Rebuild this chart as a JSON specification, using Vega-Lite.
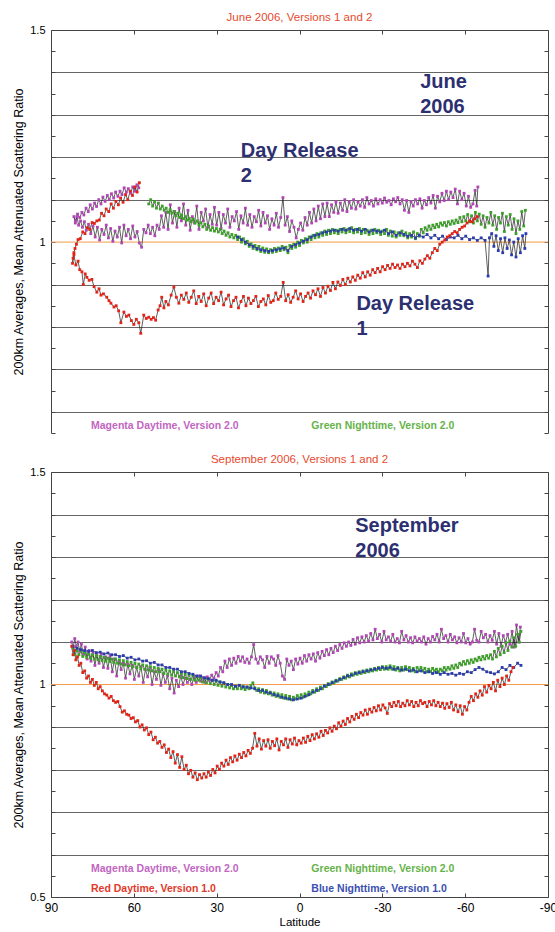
{
"$schema":"https://vega.github.io/schema/vega-lite/v6.json",
"background":"white",
"padding":{"left":12,"top":11,"right":0,"bottom":0},
"spacing":15,
"config":{"font":"Liberation Sans","view":{"stroke":null},
"axis":{"labelFont":"Liberation Sans","titleFont":"Liberation Sans","titleFontWeight":"normal","labelColor":"#000","titleColor":"#000","domainColor":"#444","tickColor":"#444","grid":false,"tickSize":-4,"labelFlush":false,"labelOverlap":false},
"title":{"font":"Liberation Sans","fontSize":11.5,"fontWeight":"normal","color":"#e64a2e","offset":1,"frame":"group","baseline":"alphabetic"}},
"datasets":{
"jun":[
{"s":"M","x":58.2,"y":1.128},{"s":"M","x":58.9,"y":1.135},{"s":"M","x":59.7,"y":1.12},{"s":"M","x":60.4,"y":1.13},{"s":"M","x":61.2,"y":1.115},{"s":"M","x":62.0,"y":1.126},{"s":"M","x":62.7,"y":1.118},{"s":"M","x":63.5,"y":1.128},{"s":"M","x":64.3,"y":1.112},{"s":"M","x":65.0,"y":1.12},{"s":"M","x":65.8,"y":1.108},{"s":"M","x":66.6,"y":1.118},{"s":"M","x":67.3,"y":1.104},{"s":"M","x":68.1,"y":1.114},{"s":"M","x":68.9,"y":1.1},{"s":"M","x":69.6,"y":1.11},{"s":"M","x":70.4,"y":1.096},{"s":"M","x":71.2,"y":1.106},{"s":"M","x":71.9,"y":1.09},{"s":"M","x":72.7,"y":1.1},{"s":"M","x":73.5,"y":1.084},{"s":"M","x":74.2,"y":1.092},{"s":"M","x":75.0,"y":1.078},{"s":"M","x":75.8,"y":1.088},{"s":"M","x":76.5,"y":1.072},{"s":"M","x":77.3,"y":1.08},{"s":"M","x":78.1,"y":1.064},{"s":"M","x":78.8,"y":1.07},{"s":"M","x":79.6,"y":1.058},{"s":"M","x":80.4,"y":1.066},{"s":"M","x":81.1,"y":1.05},{"s":"M","x":81.7,"y":1.06},
{"s":"M","x":81.2,"y":1.045},{"s":"M","x":80.6,"y":1.06},{"s":"M","x":80.0,"y":1.04},{"s":"M","x":79.3,"y":1.05},{"s":"M","x":78.6,"y":1.035},{"s":"M","x":77.9,"y":1.048},{"s":"M","x":77.2,"y":1.028},{"s":"M","x":76.4,"y":1.042},{"s":"M","x":75.6,"y":1.02},{"s":"M","x":74.8,"y":1.038},{"s":"M","x":74.0,"y":1.012},{"s":"M","x":73.2,"y":1.035},{"s":"M","x":72.4,"y":1.005},{"s":"M","x":71.6,"y":1.03},{"s":"M","x":70.8,"y":1.018},{"s":"M","x":70.0,"y":1.04},{"s":"M","x":69.2,"y":1.01},{"s":"M","x":68.4,"y":1.032},{"s":"M","x":67.6,"y":1.002},{"s":"M","x":66.8,"y":1.026},{"s":"M","x":66.0,"y":1.012},{"s":"M","x":65.2,"y":1.035},{"s":"M","x":64.4,"y":0.998},{"s":"M","x":63.6,"y":1.04},{"s":"M","x":62.8,"y":1.015},{"s":"M","x":62.0,"y":1.03},{"s":"M","x":61.2,"y":1.008},{"s":"M","x":60.4,"y":1.038},{"s":"M","x":59.6,"y":1.012},{"s":"M","x":58.8,"y":1.025},{"s":"M","x":58.0,"y":0.998},{"s":"M","x":57.2,"y":0.988},{"s":"M","x":56.4,"y":1.03},{"s":"M","x":55.6,"y":1.022},{"s":"M","x":54.8,"y":1.04},{"s":"M","x":54.0,"y":1.02},{"s":"M","x":53.2,"y":1.035},{"s":"M","x":52.4,"y":1.015},{"s":"M","x":51.6,"y":1.04},{"s":"M","x":50.8,"y":1.03},{"s":"M","x":50.0,"y":1.062},{"s":"M","x":49.2,"y":1.035},{"s":"M","x":48.4,"y":1.07},{"s":"M","x":47.6,"y":1.03},{"s":"M","x":46.8,"y":1.088},{"s":"M","x":46.0,"y":1.045},{"s":"M","x":45.2,"y":1.072},{"s":"M","x":44.4,"y":1.035},{"s":"M","x":43.6,"y":1.08},{"s":"M","x":42.8,"y":1.05},{"s":"M","x":42.0,"y":1.09},{"s":"M","x":41.2,"y":1.04},{"s":"M","x":40.4,"y":1.075},{"s":"M","x":39.6,"y":1.028},{"s":"M","x":38.8,"y":1.06},{"s":"M","x":38.0,"y":1.045},{"s":"M","x":37.2,"y":1.085},{"s":"M","x":36.4,"y":1.03},{"s":"M","x":35.6,"y":1.07},{"s":"M","x":34.8,"y":1.05},{"s":"M","x":34.0,"y":1.078},{"s":"M","x":33.2,"y":1.035},{"s":"M","x":32.4,"y":1.065},{"s":"M","x":31.6,"y":1.042},{"s":"M","x":30.8,"y":1.082},{"s":"M","x":30.0,"y":1.04},
{"s":"M","x":29.2,"y":1.07},{"s":"M","x":28.4,"y":1.032},{"s":"M","x":27.6,"y":1.065},{"s":"M","x":26.8,"y":1.045},{"s":"M","x":26.0,"y":1.078},{"s":"M","x":25.2,"y":1.035},{"s":"M","x":24.4,"y":1.06},{"s":"M","x":23.6,"y":1.05},{"s":"M","x":22.8,"y":1.072},{"s":"M","x":22.0,"y":1.03},{"s":"M","x":21.2,"y":1.062},{"s":"M","x":20.4,"y":1.045},{"s":"M","x":19.6,"y":1.08},{"s":"M","x":18.8,"y":1.04},{"s":"M","x":18.0,"y":1.065},{"s":"M","x":17.2,"y":1.035},{"s":"M","x":16.4,"y":1.06},{"s":"M","x":15.6,"y":1.048},{"s":"M","x":14.8,"y":1.075},{"s":"M","x":14.0,"y":1.038},{"s":"M","x":13.2,"y":1.07},{"s":"M","x":12.4,"y":1.045},{"s":"M","x":11.6,"y":1.062},{"s":"M","x":10.8,"y":1.03},{"s":"M","x":10.0,"y":1.055},{"s":"M","x":9.2,"y":1.04},{"s":"M","x":8.4,"y":1.068},{"s":"M","x":7.6,"y":1.035},{"s":"M","x":6.8,"y":1.058},{"s":"M","x":6.0,"y":1.105},{"s":"M","x":5.2,"y":1.04},{"s":"M","x":4.4,"y":1.06},{"s":"M","x":3.6,"y":1.025},{"s":"M","x":2.8,"y":1.05},{"s":"M","x":2.0,"y":1.035},{"s":"M","x":1.2,"y":1.01},{"s":"M","x":0.4,"y":1.03},{"s":"M","x":-0.4,"y":1.045},{"s":"M","x":-1.2,"y":1.028},{"s":"M","x":-2.0,"y":1.058},{"s":"M","x":-2.8,"y":1.04},{"s":"M","x":-3.6,"y":1.07},{"s":"M","x":-4.4,"y":1.045},{"s":"M","x":-5.2,"y":1.078},{"s":"M","x":-6.0,"y":1.05},{"s":"M","x":-6.8,"y":1.085},{"s":"M","x":-7.6,"y":1.055},{"s":"M","x":-8.4,"y":1.09},{"s":"M","x":-9.2,"y":1.06},{"s":"M","x":-10.0,"y":1.092},{"s":"M","x":-10.8,"y":1.06},{"s":"M","x":-11.6,"y":1.088},{"s":"M","x":-12.4,"y":1.07},{"s":"M","x":-13.2,"y":1.095},{"s":"M","x":-14.0,"y":1.068},{"s":"M","x":-14.8,"y":1.092},{"s":"M","x":-15.6,"y":1.075},{"s":"M","x":-16.4,"y":1.1},{"s":"M","x":-17.2,"y":1.072},{"s":"M","x":-18.0,"y":1.095},{"s":"M","x":-18.8,"y":1.08},{"s":"M","x":-19.6,"y":1.1},{"s":"M","x":-20.4,"y":1.078},{"s":"M","x":-21.2,"y":1.095},{"s":"M","x":-22.0,"y":1.085},{"s":"M","x":-22.8,"y":1.1},{"s":"M","x":-23.6,"y":1.082},{"s":"M","x":-24.4,"y":1.105},{"s":"M","x":-25.2,"y":1.09},{"s":"M","x":-26.0,"y":1.098},{"s":"M","x":-26.8,"y":1.085},{"s":"M","x":-27.6,"y":1.102},{"s":"M","x":-28.4,"y":1.09},{"s":"M","x":-29.2,"y":1.1},{"s":"M","x":-30.0,"y":1.092},{"s":"M","x":-30.8,"y":1.104},{"s":"M","x":-31.6,"y":1.094},{"s":"M","x":-32.4,"y":1.098},{"s":"M","x":-33.2,"y":1.088},{"s":"M","x":-34.0,"y":1.102},{"s":"M","x":-34.8,"y":1.095},{"s":"M","x":-35.6,"y":1.105},{"s":"M","x":-36.4,"y":1.09},{"s":"M","x":-37.2,"y":1.1},{"s":"M","x":-38.0,"y":1.075},{"s":"M","x":-38.8,"y":1.098},{"s":"M","x":-39.6,"y":1.07},{"s":"M","x":-40.4,"y":1.095},{"s":"M","x":-41.2,"y":1.085},{"s":"M","x":-42.0,"y":1.1},{"s":"M","x":-42.8,"y":1.09},{"s":"M","x":-43.6,"y":1.102},{"s":"M","x":-44.4,"y":1.08},{"s":"M","x":-45.2,"y":1.098},{"s":"M","x":-46.0,"y":1.088},{"s":"M","x":-46.8,"y":1.105},{"s":"M","x":-47.6,"y":1.092},{"s":"M","x":-48.4,"y":1.11},{"s":"M","x":-49.2,"y":1.08},{"s":"M","x":-50.0,"y":1.108},{"s":"M","x":-50.8,"y":1.095},{"s":"M","x":-51.6,"y":1.115},{"s":"M","x":-52.4,"y":1.098},{"s":"M","x":-53.2,"y":1.12},{"s":"M","x":-54.0,"y":1.1},{"s":"M","x":-54.8,"y":1.118},{"s":"M","x":-55.6,"y":1.105},{"s":"M","x":-56.4,"y":1.125},{"s":"M","x":-57.2,"y":1.09},{"s":"M","x":-58.0,"y":1.12},{"s":"M","x":-58.8,"y":1.1},{"s":"M","x":-59.6,"y":1.115},{"s":"M","x":-60.4,"y":1.085},{"s":"M","x":-61.2,"y":1.108},{"s":"M","x":-62.0,"y":1.082},{"s":"M","x":-62.8,"y":1.09},{"s":"M","x":-63.6,"y":1.122},{"s":"M","x":-64.2,"y":1.085},{"s":"M","x":-64.6,"y":1.13},
{"s":"G","x":54.6,"y":1.09},{"s":"G","x":53.9,"y":1.1},{"s":"G","x":53.2,"y":1.085},{"s":"G","x":52.5,"y":1.095},{"s":"G","x":51.8,"y":1.08},{"s":"G","x":51.1,"y":1.092},{"s":"G","x":50.4,"y":1.078},{"s":"G","x":49.7,"y":1.085},{"s":"G","x":49.0,"y":1.075},{"s":"G","x":48.3,"y":1.08},{"s":"G","x":47.6,"y":1.07},{"s":"G","x":46.9,"y":1.076},{"s":"G","x":46.2,"y":1.068},{"s":"G","x":45.5,"y":1.072},{"s":"G","x":44.8,"y":1.062},{"s":"G","x":44.1,"y":1.068},{"s":"G","x":43.4,"y":1.058},{"s":"G","x":42.7,"y":1.064},{"s":"G","x":42.0,"y":1.055},{"s":"G","x":41.3,"y":1.06},{"s":"G","x":40.6,"y":1.052},{"s":"G","x":39.9,"y":1.056},{"s":"G","x":39.2,"y":1.048},{"s":"G","x":38.5,"y":1.054},{"s":"G","x":37.8,"y":1.045},{"s":"G","x":37.1,"y":1.05},{"s":"G","x":36.4,"y":1.04},{"s":"G","x":35.7,"y":1.046},{"s":"G","x":35.0,"y":1.036},{"s":"G","x":34.3,"y":1.042},{"s":"G","x":33.6,"y":1.03},{"s":"G","x":32.9,"y":1.038},{"s":"G","x":32.2,"y":1.028},{"s":"G","x":31.5,"y":1.034},{"s":"G","x":30.8,"y":1.026},{"s":"G","x":30.1,"y":1.032},{"s":"G","x":29.4,"y":1.024},{"s":"G","x":28.7,"y":1.03},{"s":"G","x":28.0,"y":1.02},{"s":"G","x":27.3,"y":1.026},{"s":"G","x":26.6,"y":1.016},{"s":"G","x":25.9,"y":1.022},{"s":"G","x":25.2,"y":1.012},{"s":"G","x":24.5,"y":1.018},{"s":"G","x":23.8,"y":1.01},{"s":"G","x":23.1,"y":1.016},{"s":"G","x":22.4,"y":1.006},{"s":"G","x":21.7,"y":1.012},{"s":"G","x":21.0,"y":1.0},{"s":"G","x":20.3,"y":1.008},{"s":"G","x":19.6,"y":0.996},{"s":"G","x":18.9,"y":1.002},{"s":"G","x":18.2,"y":0.99},{"s":"G","x":17.5,"y":0.996},{"s":"G","x":16.8,"y":0.985},{"s":"G","x":16.1,"y":0.992},{"s":"G","x":15.4,"y":0.982},{"s":"G","x":14.7,"y":0.99},{"s":"G","x":14.0,"y":0.978},{"s":"G","x":13.3,"y":0.986},{"s":"G","x":12.6,"y":0.976},{"s":"G","x":11.9,"y":0.984},{"s":"G","x":11.2,"y":0.975},{"s":"G","x":10.5,"y":0.982},{"s":"G","x":9.8,"y":0.976},{"s":"G","x":9.1,"y":0.985},{"s":"G","x":8.4,"y":0.978},{"s":"G","x":7.7,"y":0.986},{"s":"G","x":7.0,"y":0.98},{"s":"G","x":6.3,"y":0.99},{"s":"G","x":5.6,"y":0.982},{"s":"G","x":4.9,"y":0.988},{"s":"G","x":4.2,"y":0.975},{"s":"G","x":3.5,"y":0.992},{"s":"G","x":2.8,"y":0.985},{"s":"G","x":2.1,"y":0.995},{"s":"G","x":1.4,"y":0.988},{"s":"G","x":0.7,"y":1.0},{"s":"G","x":0.0,"y":0.992},{"s":"G","x":-0.7,"y":1.004},{"s":"G","x":-1.4,"y":0.998},{"s":"G","x":-2.1,"y":1.008},{"s":"G","x":-2.8,"y":1.0},{"s":"G","x":-3.5,"y":1.012},{"s":"G","x":-4.2,"y":1.006},{"s":"G","x":-4.9,"y":1.016},{"s":"G","x":-5.6,"y":1.01},{"s":"G","x":-6.3,"y":1.02},{"s":"G","x":-7.0,"y":1.012},{"s":"G","x":-7.7,"y":1.022},{"s":"G","x":-8.4,"y":1.016},{"s":"G","x":-9.1,"y":1.026},{"s":"G","x":-9.8,"y":1.018},{"s":"G","x":-10.5,"y":1.028},{"s":"G","x":-11.2,"y":1.02},{"s":"G","x":-11.9,"y":1.03},{"s":"G","x":-12.6,"y":1.022},{"s":"G","x":-13.3,"y":1.028},{"s":"G","x":-14.0,"y":1.02},{"s":"G","x":-14.7,"y":1.03},{"s":"G","x":-15.4,"y":1.024},{"s":"G","x":-16.1,"y":1.032},{"s":"G","x":-16.8,"y":1.022},{"s":"G","x":-17.5,"y":1.03},{"s":"G","x":-18.2,"y":1.025},{"s":"G","x":-18.9,"y":1.034},{"s":"G","x":-19.6,"y":1.022},{"s":"G","x":-20.3,"y":1.03},{"s":"G","x":-21.0,"y":1.024},{"s":"G","x":-21.7,"y":1.032},{"s":"G","x":-22.4,"y":1.02},{"s":"G","x":-23.1,"y":1.03},{"s":"G","x":-23.8,"y":1.022},{"s":"G","x":-24.5,"y":1.028},{"s":"G","x":-25.2,"y":1.018},{"s":"G","x":-25.9,"y":1.028},{"s":"G","x":-26.6,"y":1.02},{"s":"G","x":-27.3,"y":1.03},{"s":"G","x":-28.0,"y":1.022},{"s":"G","x":-28.7,"y":1.028},{"s":"G","x":-29.4,"y":1.018},{"s":"G","x":-30.1,"y":1.026},{"s":"G","x":-30.8,"y":1.02},{"s":"G","x":-31.5,"y":1.03},{"s":"G","x":-32.2,"y":1.016},{"s":"G","x":-32.9,"y":1.026},{"s":"G","x":-33.6,"y":1.014},{"s":"G","x":-34.3,"y":1.024},{"s":"G","x":-35.0,"y":1.012},{"s":"G","x":-35.7,"y":1.022},{"s":"G","x":-36.4,"y":1.016},{"s":"G","x":-37.1,"y":1.026},{"s":"G","x":-37.8,"y":1.015},{"s":"G","x":-38.5,"y":1.022},{"s":"G","x":-39.2,"y":1.01},{"s":"G","x":-39.9,"y":1.02},{"s":"G","x":-40.6,"y":1.012},{"s":"G","x":-41.3,"y":1.024},{"s":"G","x":-42.0,"y":1.008},{"s":"G","x":-42.7,"y":1.02},{"s":"G","x":-43.4,"y":1.014},{"s":"G","x":-44.1,"y":1.03},{"s":"G","x":-44.8,"y":1.022},{"s":"G","x":-45.5,"y":1.034},{"s":"G","x":-46.2,"y":1.028},{"s":"G","x":-46.9,"y":1.038},{"s":"G","x":-47.6,"y":1.03},{"s":"G","x":-48.3,"y":1.04},{"s":"G","x":-49.0,"y":1.034},{"s":"G","x":-49.7,"y":1.042},{"s":"G","x":-50.4,"y":1.036},{"s":"G","x":-51.1,"y":1.045},{"s":"G","x":-51.8,"y":1.04},{"s":"G","x":-52.5,"y":1.046},{"s":"G","x":-53.2,"y":1.038},{"s":"G","x":-53.9,"y":1.048},{"s":"G","x":-54.6,"y":1.042},{"s":"G","x":-55.3,"y":1.05},{"s":"G","x":-56.0,"y":1.044},{"s":"G","x":-56.7,"y":1.052},{"s":"G","x":-57.4,"y":1.046},{"s":"G","x":-58.1,"y":1.058},{"s":"G","x":-58.8,"y":1.048},{"s":"G","x":-59.5,"y":1.06},{"s":"G","x":-60.2,"y":1.05},{"s":"G","x":-60.9,"y":1.065},{"s":"G","x":-61.6,"y":1.048},{"s":"G","x":-62.3,"y":1.062},{"s":"G","x":-63.0,"y":1.045},{"s":"G","x":-63.7,"y":1.07},{"s":"G","x":-64.4,"y":1.05},{"s":"G","x":-65.1,"y":1.066},{"s":"G","x":-65.8,"y":1.042},{"s":"G","x":-66.5,"y":1.062},{"s":"G","x":-67.2,"y":1.035},{"s":"G","x":-67.9,"y":1.058},{"s":"G","x":-68.6,"y":1.045},{"s":"G","x":-69.3,"y":1.07},{"s":"G","x":-70.0,"y":1.04},{"s":"G","x":-70.7,"y":1.062},{"s":"G","x":-71.4,"y":1.03},{"s":"G","x":-72.1,"y":1.058},{"s":"G","x":-72.8,"y":1.045},{"s":"G","x":-73.5,"y":1.068},{"s":"G","x":-74.2,"y":1.025},{"s":"G","x":-74.9,"y":1.06},{"s":"G","x":-75.6,"y":1.04},{"s":"G","x":-76.3,"y":1.065},{"s":"G","x":-77.0,"y":1.03},{"s":"G","x":-77.7,"y":1.055},{"s":"G","x":-78.4,"y":1.02},{"s":"G","x":-79.1,"y":1.05},{"s":"G","x":-79.8,"y":1.03},{"s":"G","x":-80.5,"y":1.072},{"s":"G","x":-81.2,"y":1.038},{"s":"G","x":-81.8,"y":1.075},
{"s":"B","x":22.4,"y":1.012},{"s":"B","x":21.0,"y":1.006},{"s":"B","x":19.6,"y":1.0},{"s":"B","x":18.2,"y":0.994},{"s":"B","x":16.8,"y":0.99},{"s":"B","x":15.4,"y":0.985},{"s":"B","x":14.0,"y":0.982},{"s":"B","x":12.6,"y":0.98},{"s":"B","x":11.2,"y":0.978},{"s":"B","x":9.8,"y":0.98},{"s":"B","x":8.4,"y":0.982},{"s":"B","x":7.0,"y":0.984},{"s":"B","x":5.6,"y":0.986},{"s":"B","x":4.2,"y":0.98},{"s":"B","x":2.8,"y":0.99},{"s":"B","x":1.4,"y":0.994},{"s":"B","x":0.0,"y":0.998},{"s":"B","x":-1.4,"y":1.002},{"s":"B","x":-2.8,"y":1.006},{"s":"B","x":-4.2,"y":1.012},{"s":"B","x":-5.6,"y":1.016},{"s":"B","x":-7.0,"y":1.018},{"s":"B","x":-8.4,"y":1.022},{"s":"B","x":-9.8,"y":1.024},{"s":"B","x":-11.2,"y":1.026},{"s":"B","x":-12.6,"y":1.028},{"s":"B","x":-14.0,"y":1.026},{"s":"B","x":-15.4,"y":1.03},{"s":"B","x":-16.8,"y":1.028},{"s":"B","x":-18.2,"y":1.032},{"s":"B","x":-19.6,"y":1.028},{"s":"B","x":-21.0,"y":1.03},{"s":"B","x":-22.4,"y":1.026},{"s":"B","x":-23.8,"y":1.03},{"s":"B","x":-25.2,"y":1.024},{"s":"B","x":-26.6,"y":1.028},{"s":"B","x":-28.0,"y":1.026},{"s":"B","x":-29.4,"y":1.024},{"s":"B","x":-30.8,"y":1.028},{"s":"B","x":-32.2,"y":1.02},{"s":"B","x":-33.6,"y":1.024},{"s":"B","x":-35.0,"y":1.016},{"s":"B","x":-36.4,"y":1.022},{"s":"B","x":-37.8,"y":1.018},{"s":"B","x":-39.2,"y":1.014},{"s":"B","x":-40.6,"y":1.016},{"s":"B","x":-42.0,"y":1.01},{"s":"B","x":-43.4,"y":1.016},{"s":"B","x":-44.8,"y":1.012},{"s":"B","x":-46.2,"y":1.018},{"s":"B","x":-47.6,"y":1.01},{"s":"B","x":-49.0,"y":1.016},{"s":"B","x":-50.4,"y":1.008},{"s":"B","x":-51.8,"y":1.014},{"s":"B","x":-53.2,"y":1.006},{"s":"B","x":-54.6,"y":1.012},{"s":"B","x":-56.0,"y":1.01},{"s":"B","x":-57.4,"y":1.016},{"s":"B","x":-58.8,"y":1.008},{"s":"B","x":-60.2,"y":1.014},{"s":"B","x":-61.6,"y":1.006},{"s":"B","x":-63.0,"y":1.01},{"s":"B","x":-64.4,"y":1.004},{"s":"B","x":-65.8,"y":1.01},{"s":"B","x":-67.2,"y":1.004},{"s":"B","x":-68.3,"y":0.92},{"s":"B","x":-68.8,"y":1.01},{"s":"B","x":-69.6,"y":1.02},{"s":"B","x":-70.4,"y":0.99},{"s":"B","x":-71.2,"y":1.015},{"s":"B","x":-72.0,"y":0.98},{"s":"B","x":-72.8,"y":1.008},{"s":"B","x":-73.6,"y":0.975},{"s":"B","x":-74.4,"y":1.01},{"s":"B","x":-75.2,"y":0.985},{"s":"B","x":-76.0,"y":1.005},{"s":"B","x":-76.8,"y":0.97},{"s":"B","x":-77.6,"y":1.0},{"s":"B","x":-78.4,"y":0.965},{"s":"B","x":-79.2,"y":1.008},{"s":"B","x":-80.0,"y":0.975},{"s":"B","x":-80.8,"y":1.015},{"s":"B","x":-81.6,"y":0.985},{"s":"B","x":-82.0,"y":1.02},
{"s":"R","x":58.0,"y":1.14},{"s":"R","x":58.8,"y":1.118},{"s":"R","x":59.6,"y":1.13},{"s":"R","x":60.5,"y":1.11},{"s":"R","x":61.3,"y":1.12},{"s":"R","x":62.2,"y":1.1},{"s":"R","x":63.0,"y":1.112},{"s":"R","x":63.9,"y":1.094},{"s":"R","x":64.8,"y":1.104},{"s":"R","x":65.6,"y":1.088},{"s":"R","x":66.5,"y":1.096},{"s":"R","x":67.4,"y":1.08},{"s":"R","x":68.2,"y":1.09},{"s":"R","x":69.1,"y":1.072},{"s":"R","x":70.0,"y":1.078},{"s":"R","x":70.8,"y":1.062},{"s":"R","x":71.7,"y":1.068},{"s":"R","x":72.5,"y":1.052},{"s":"R","x":73.4,"y":1.05},{"s":"R","x":74.3,"y":1.044},{"s":"R","x":75.1,"y":1.046},{"s":"R","x":76.0,"y":1.03},{"s":"R","x":76.8,"y":1.034},{"s":"R","x":77.7,"y":1.02},{"s":"R","x":78.5,"y":1.024},{"s":"R","x":79.4,"y":1.008},{"s":"R","x":80.2,"y":1.006},{"s":"R","x":80.8,"y":0.995},{"s":"R","x":81.3,"y":0.985},{"s":"R","x":81.7,"y":0.975},{"s":"R","x":82.0,"y":0.962},{"s":"R","x":82.2,"y":0.95},
{"s":"R","x":81.7,"y":0.97},{"s":"R","x":81.0,"y":0.946},{"s":"R","x":80.2,"y":0.955},{"s":"R","x":79.6,"y":0.935},{"s":"R","x":78.8,"y":0.93},{"s":"R","x":78.3,"y":0.9},{"s":"R","x":77.6,"y":0.925},{"s":"R","x":77.0,"y":0.917},{"s":"R","x":76.2,"y":0.91},{"s":"R","x":75.2,"y":0.912},{"s":"R","x":74.4,"y":0.895},{"s":"R","x":73.4,"y":0.882},{"s":"R","x":72.6,"y":0.89},{"s":"R","x":71.9,"y":0.875},{"s":"R","x":71.0,"y":0.878},{"s":"R","x":69.8,"y":0.87},{"s":"R","x":69.0,"y":0.862},{"s":"R","x":68.3,"y":0.856},{"s":"R","x":67.2,"y":0.847},{"s":"R","x":66.4,"y":0.85},{"s":"R","x":65.5,"y":0.838},{"s":"R","x":64.7,"y":0.81},{"s":"R","x":63.6,"y":0.835},{"s":"R","x":62.7,"y":0.825},{"s":"R","x":61.8,"y":0.828},{"s":"R","x":60.9,"y":0.815},{"s":"R","x":60.0,"y":0.806},{"s":"R","x":59.1,"y":0.818},{"s":"R","x":58.2,"y":0.81},{"s":"R","x":57.5,"y":0.785},{"s":"R","x":56.4,"y":0.828},{"s":"R","x":55.5,"y":0.82},{"s":"R","x":54.6,"y":0.823},{"s":"R","x":53.7,"y":0.818},{"s":"R","x":52.9,"y":0.822},{"s":"R","x":52.1,"y":0.816},{"s":"R","x":51.2,"y":0.84},{"s":"R","x":50.5,"y":0.85},{"s":"R","x":49.9,"y":0.87},{"s":"R","x":49.1,"y":0.845},{"s":"R","x":48.4,"y":0.86},{"s":"R","x":47.5,"y":0.852},{"s":"R","x":46.5,"y":0.875},{"s":"R","x":45.5,"y":0.894},{"s":"R","x":44.6,"y":0.87},{"s":"R","x":43.7,"y":0.856},{"s":"R","x":42.8,"y":0.875},{"s":"R","x":41.9,"y":0.865},{"s":"R","x":41.0,"y":0.88},{"s":"R","x":40.1,"y":0.858},{"s":"R","x":39.2,"y":0.87},{"s":"R","x":38.3,"y":0.885},{"s":"R","x":37.4,"y":0.855},{"s":"R","x":36.5,"y":0.872},{"s":"R","x":35.6,"y":0.86},{"s":"R","x":34.7,"y":0.878},{"s":"R","x":33.8,"y":0.85},{"s":"R","x":32.9,"y":0.868},{"s":"R","x":32.0,"y":0.88},{"s":"R","x":31.1,"y":0.855},{"s":"R","x":30.2,"y":0.87},{"s":"R","x":29.3,"y":0.862},{"s":"R","x":28.4,"y":0.882},{"s":"R","x":27.5,"y":0.852},{"s":"R","x":26.6,"y":0.866},{"s":"R","x":25.7,"y":0.875},{"s":"R","x":24.8,"y":0.848},{"s":"R","x":23.9,"y":0.862},{"s":"R","x":23.0,"y":0.87},{"s":"R","x":22.1,"y":0.845},{"s":"R","x":21.2,"y":0.86},{"s":"R","x":20.3,"y":0.872},{"s":"R","x":19.4,"y":0.85},{"s":"R","x":18.5,"y":0.868},{"s":"R","x":17.6,"y":0.855},{"s":"R","x":16.7,"y":0.862},{"s":"R","x":15.8,"y":0.872},{"s":"R","x":14.9,"y":0.848},{"s":"R","x":14.0,"y":0.86},{"s":"R","x":13.1,"y":0.866},{"s":"R","x":12.2,"y":0.852},{"s":"R","x":11.3,"y":0.874},{"s":"R","x":10.4,"y":0.858},{"s":"R","x":9.5,"y":0.862},{"s":"R","x":8.6,"y":0.88},{"s":"R","x":7.7,"y":0.865},{"s":"R","x":6.8,"y":0.872},{"s":"R","x":5.9,"y":0.905},{"s":"R","x":5.0,"y":0.862},{"s":"R","x":4.1,"y":0.876},{"s":"R","x":3.2,"y":0.858},{"s":"R","x":2.3,"y":0.87},{"s":"R","x":1.4,"y":0.885},{"s":"R","x":0.5,"y":0.866},{"s":"R","x":-0.4,"y":0.878},{"s":"R","x":-1.3,"y":0.86},{"s":"R","x":-2.2,"y":0.872},{"s":"R","x":-3.1,"y":0.88},{"s":"R","x":-4.0,"y":0.868},{"s":"R","x":-4.9,"y":0.885},{"s":"R","x":-5.8,"y":0.876},{"s":"R","x":-6.7,"y":0.89},{"s":"R","x":-7.6,"y":0.872},{"s":"R","x":-8.5,"y":0.893},{"s":"R","x":-9.4,"y":0.88},{"s":"R","x":-10.3,"y":0.896},{"s":"R","x":-11.2,"y":0.886},{"s":"R","x":-12.1,"y":0.905},{"s":"R","x":-13.0,"y":0.89},{"s":"R","x":-13.9,"y":0.906},{"s":"R","x":-14.8,"y":0.898},{"s":"R","x":-15.7,"y":0.912},{"s":"R","x":-16.6,"y":0.9},{"s":"R","x":-17.5,"y":0.915},{"s":"R","x":-18.4,"y":0.906},{"s":"R","x":-19.3,"y":0.918},{"s":"R","x":-20.2,"y":0.91},{"s":"R","x":-21.1,"y":0.922},{"s":"R","x":-22.0,"y":0.915},{"s":"R","x":-22.9,"y":0.928},{"s":"R","x":-23.8,"y":0.918},{"s":"R","x":-24.7,"y":0.93},{"s":"R","x":-25.6,"y":0.922},{"s":"R","x":-26.5,"y":0.935},{"s":"R","x":-27.4,"y":0.928},{"s":"R","x":-28.3,"y":0.938},{"s":"R","x":-29.2,"y":0.93},{"s":"R","x":-30.1,"y":0.942},{"s":"R","x":-31.0,"y":0.935},{"s":"R","x":-31.9,"y":0.945},{"s":"R","x":-32.8,"y":0.938},{"s":"R","x":-33.7,"y":0.948},{"s":"R","x":-34.6,"y":0.94},{"s":"R","x":-35.5,"y":0.946},{"s":"R","x":-36.4,"y":0.938},{"s":"R","x":-37.3,"y":0.948},{"s":"R","x":-38.2,"y":0.942},{"s":"R","x":-39.1,"y":0.95},{"s":"R","x":-40.0,"y":0.944},{"s":"R","x":-40.9,"y":0.955},{"s":"R","x":-41.8,"y":0.948},{"s":"R","x":-42.7,"y":0.94},{"s":"R","x":-43.6,"y":0.956},{"s":"R","x":-44.5,"y":0.95},{"s":"R","x":-45.4,"y":0.96},{"s":"R","x":-46.3,"y":0.968},{"s":"R","x":-47.2,"y":0.962},{"s":"R","x":-48.1,"y":0.975},{"s":"R","x":-49.0,"y":0.985},{"s":"R","x":-49.9,"y":0.98},{"s":"R","x":-50.8,"y":0.995},{"s":"R","x":-51.7,"y":1.0},{"s":"R","x":-52.6,"y":1.005},{"s":"R","x":-53.5,"y":1.012},{"s":"R","x":-54.4,"y":1.015},{"s":"R","x":-55.3,"y":1.02},{"s":"R","x":-56.2,"y":1.025},{"s":"R","x":-57.1,"y":1.022},{"s":"R","x":-58.0,"y":1.03},{"s":"R","x":-58.9,"y":1.035},{"s":"R","x":-59.8,"y":1.038},{"s":"R","x":-60.7,"y":1.045},{"s":"R","x":-61.6,"y":1.05},{"s":"R","x":-62.5,"y":1.048},{"s":"R","x":-63.4,"y":1.055},{"s":"R","x":-64.3,"y":1.06}
],
"sep":[
{"s":"M","x":82.5,"y":1.1},{"s":"M","x":82.0,"y":1.085},{"s":"M","x":81.4,"y":1.108},{"s":"M","x":80.8,"y":1.09},{"s":"M","x":80.2,"y":1.1},{"s":"M","x":79.6,"y":1.078},{"s":"M","x":79.0,"y":1.095},{"s":"M","x":78.3,"y":1.07},{"s":"M","x":77.6,"y":1.088},{"s":"M","x":76.9,"y":1.06},{"s":"M","x":76.2,"y":1.08},{"s":"M","x":75.5,"y":1.055},{"s":"M","x":74.8,"y":1.075},{"s":"M","x":74.1,"y":1.045},{"s":"M","x":73.4,"y":1.07},{"s":"M","x":72.6,"y":1.05},{"s":"M","x":71.8,"y":1.072},{"s":"M","x":71.0,"y":1.04},{"s":"M","x":70.2,"y":1.065},{"s":"M","x":69.4,"y":1.038},{"s":"M","x":68.6,"y":1.068},{"s":"M","x":67.8,"y":1.03},{"s":"M","x":67.0,"y":1.06},{"s":"M","x":66.2,"y":1.02},{"s":"M","x":65.4,"y":1.055},{"s":"M","x":64.6,"y":1.035},{"s":"M","x":63.8,"y":1.05},{"s":"M","x":63.0,"y":1.015},{"s":"M","x":62.2,"y":1.048},{"s":"M","x":61.4,"y":1.025},{"s":"M","x":60.6,"y":1.045},{"s":"M","x":59.8,"y":1.012},{"s":"M","x":59.0,"y":1.04},{"s":"M","x":58.2,"y":1.02},{"s":"M","x":57.4,"y":1.042},{"s":"M","x":56.6,"y":1.005},{"s":"M","x":55.8,"y":1.035},{"s":"M","x":55.0,"y":1.018},{"s":"M","x":54.2,"y":1.04},{"s":"M","x":53.4,"y":1.0},{"s":"M","x":52.6,"y":1.03},{"s":"M","x":51.8,"y":1.012},{"s":"M","x":51.0,"y":1.035},{"s":"M","x":50.2,"y":0.998},{"s":"M","x":49.4,"y":1.025},{"s":"M","x":48.6,"y":1.005},{"s":"M","x":47.8,"y":1.02},{"s":"M","x":47.0,"y":0.99},{"s":"M","x":46.2,"y":1.015},{"s":"M","x":45.4,"y":0.98},{"s":"M","x":44.6,"y":1.01},{"s":"M","x":43.8,"y":0.995},{"s":"M","x":43.0,"y":1.02},{"s":"M","x":42.2,"y":1.0},{"s":"M","x":41.4,"y":1.015},{"s":"M","x":40.6,"y":1.005},{"s":"M","x":39.8,"y":1.012},{"s":"M","x":39.0,"y":1.0},{"s":"M","x":38.2,"y":1.018},{"s":"M","x":37.4,"y":1.005},{"s":"M","x":36.6,"y":1.02},{"s":"M","x":35.8,"y":1.008},{"s":"M","x":35.0,"y":1.015},{"s":"M","x":34.2,"y":1.005},{"s":"M","x":33.4,"y":1.018},{"s":"M","x":32.6,"y":1.01},{"s":"M","x":31.8,"y":1.022},{"s":"M","x":31.0,"y":1.015},{"s":"M","x":30.2,"y":1.028},{"s":"M","x":29.4,"y":1.02},{"s":"M","x":28.6,"y":1.04},{"s":"M","x":27.8,"y":1.03},{"s":"M","x":27.0,"y":1.055},{"s":"M","x":26.2,"y":1.04},{"s":"M","x":25.4,"y":1.06},{"s":"M","x":24.6,"y":1.045},{"s":"M","x":23.8,"y":1.062},{"s":"M","x":23.0,"y":1.05},{"s":"M","x":22.2,"y":1.066},{"s":"M","x":21.4,"y":1.055},{"s":"M","x":20.6,"y":1.065},{"s":"M","x":19.8,"y":1.052},{"s":"M","x":19.0,"y":1.06},{"s":"M","x":18.2,"y":1.05},{"s":"M","x":17.4,"y":1.065},{"s":"M","x":16.6,"y":1.094},{"s":"M","x":15.8,"y":1.06},{"s":"M","x":15.0,"y":1.05},{"s":"M","x":14.2,"y":1.065},{"s":"M","x":13.4,"y":1.058},{"s":"M","x":12.6,"y":1.04},{"s":"M","x":11.8,"y":1.066},{"s":"M","x":11.0,"y":1.05},{"s":"M","x":10.2,"y":1.065},{"s":"M","x":9.4,"y":1.06},{"s":"M","x":8.6,"y":1.045},{"s":"M","x":7.8,"y":1.068},{"s":"M","x":7.0,"y":1.05},{"s":"M","x":6.2,"y":1.02},{"s":"M","x":5.4,"y":1.012},{"s":"M","x":4.6,"y":1.06},{"s":"M","x":3.8,"y":1.045},{"s":"M","x":3.0,"y":1.055},{"s":"M","x":2.2,"y":1.035},{"s":"M","x":1.4,"y":1.06},{"s":"M","x":0.6,"y":1.048},{"s":"M","x":-0.2,"y":1.062},{"s":"M","x":-1.0,"y":1.05},{"s":"M","x":-1.8,"y":1.068},{"s":"M","x":-2.6,"y":1.055},{"s":"M","x":-3.4,"y":1.07},{"s":"M","x":-4.2,"y":1.06},{"s":"M","x":-5.0,"y":1.072},{"s":"M","x":-5.8,"y":1.055},{"s":"M","x":-6.6,"y":1.075},{"s":"M","x":-7.4,"y":1.062},{"s":"M","x":-8.2,"y":1.078},{"s":"M","x":-9.0,"y":1.068},{"s":"M","x":-9.8,"y":1.082},{"s":"M","x":-10.6,"y":1.07},{"s":"M","x":-11.4,"y":1.085},{"s":"M","x":-12.2,"y":1.075},{"s":"M","x":-13.0,"y":1.09},{"s":"M","x":-13.8,"y":1.08},{"s":"M","x":-14.6,"y":1.094},{"s":"M","x":-15.4,"y":1.085},{"s":"M","x":-16.2,"y":1.098},{"s":"M","x":-17.0,"y":1.09},{"s":"M","x":-17.8,"y":1.1},{"s":"M","x":-18.6,"y":1.092},{"s":"M","x":-19.4,"y":1.106},{"s":"M","x":-20.2,"y":1.095},{"s":"M","x":-21.0,"y":1.11},{"s":"M","x":-21.8,"y":1.098},{"s":"M","x":-22.6,"y":1.112},{"s":"M","x":-23.4,"y":1.1},{"s":"M","x":-24.2,"y":1.115},{"s":"M","x":-25.0,"y":1.102},{"s":"M","x":-25.8,"y":1.12},{"s":"M","x":-26.6,"y":1.105},{"s":"M","x":-27.4,"y":1.13},{"s":"M","x":-28.2,"y":1.108},{"s":"M","x":-29.0,"y":1.118},{"s":"M","x":-29.8,"y":1.1},{"s":"M","x":-30.6,"y":1.125},{"s":"M","x":-31.4,"y":1.105},{"s":"M","x":-32.2,"y":1.112},{"s":"M","x":-33.0,"y":1.102},{"s":"M","x":-33.8,"y":1.118},{"s":"M","x":-34.6,"y":1.1},{"s":"M","x":-35.4,"y":1.108},{"s":"M","x":-36.2,"y":1.098},{"s":"M","x":-37.0,"y":1.125},{"s":"M","x":-37.8,"y":1.105},{"s":"M","x":-38.6,"y":1.115},{"s":"M","x":-39.4,"y":1.1},{"s":"M","x":-40.2,"y":1.11},{"s":"M","x":-41.0,"y":1.098},{"s":"M","x":-41.8,"y":1.112},{"s":"M","x":-42.6,"y":1.102},{"s":"M","x":-43.4,"y":1.108},{"s":"M","x":-44.2,"y":1.1},{"s":"M","x":-45.0,"y":1.112},{"s":"M","x":-45.8,"y":1.095},{"s":"M","x":-46.6,"y":1.108},{"s":"M","x":-47.4,"y":1.1},{"s":"M","x":-48.2,"y":1.113},{"s":"M","x":-49.0,"y":1.105},{"s":"M","x":-49.8,"y":1.118},{"s":"M","x":-50.6,"y":1.1},{"s":"M","x":-51.4,"y":1.13},{"s":"M","x":-52.2,"y":1.108},{"s":"M","x":-53.0,"y":1.115},{"s":"M","x":-53.8,"y":1.1},{"s":"M","x":-54.6,"y":1.118},{"s":"M","x":-55.4,"y":1.105},{"s":"M","x":-56.2,"y":1.112},{"s":"M","x":-57.0,"y":1.098},{"s":"M","x":-57.8,"y":1.11},{"s":"M","x":-58.6,"y":1.1},{"s":"M","x":-59.4,"y":1.12},{"s":"M","x":-60.2,"y":1.098},{"s":"M","x":-61.0,"y":1.108},{"s":"M","x":-61.8,"y":1.095},{"s":"M","x":-62.6,"y":1.1},{"s":"M","x":-63.4,"y":1.13},{"s":"M","x":-64.2,"y":1.104},{"s":"M","x":-65.0,"y":1.1},{"s":"M","x":-65.8,"y":1.125},{"s":"M","x":-66.6,"y":1.11},{"s":"M","x":-67.4,"y":1.118},{"s":"M","x":-68.2,"y":1.1},{"s":"M","x":-69.0,"y":1.115},{"s":"M","x":-69.8,"y":1.104},{"s":"M","x":-70.6,"y":1.125},{"s":"M","x":-71.4,"y":1.095},{"s":"M","x":-72.2,"y":1.12},{"s":"M","x":-73.0,"y":1.09},{"s":"M","x":-73.8,"y":1.115},{"s":"M","x":-74.6,"y":1.1},{"s":"M","x":-75.4,"y":1.118},{"s":"M","x":-76.2,"y":1.095},{"s":"M","x":-77.0,"y":1.125},{"s":"M","x":-77.8,"y":1.088},{"s":"M","x":-78.6,"y":1.14},{"s":"M","x":-79.4,"y":1.1},{"s":"M","x":-80.0,"y":1.135},
{"s":"G","x":82.0,"y":1.085},{"s":"G","x":81.3,"y":1.07},{"s":"G","x":80.6,"y":1.08},{"s":"G","x":79.9,"y":1.07},{"s":"G","x":79.2,"y":1.078},{"s":"G","x":78.5,"y":1.066},{"s":"G","x":77.8,"y":1.074},{"s":"G","x":77.1,"y":1.064},{"s":"G","x":76.4,"y":1.072},{"s":"G","x":75.7,"y":1.062},{"s":"G","x":75.0,"y":1.07},{"s":"G","x":74.3,"y":1.06},{"s":"G","x":73.6,"y":1.068},{"s":"G","x":72.9,"y":1.058},{"s":"G","x":72.2,"y":1.066},{"s":"G","x":71.5,"y":1.056},{"s":"G","x":70.8,"y":1.064},{"s":"G","x":70.1,"y":1.055},{"s":"G","x":69.4,"y":1.062},{"s":"G","x":68.7,"y":1.054},{"s":"G","x":68.0,"y":1.06},{"s":"G","x":67.3,"y":1.052},{"s":"G","x":66.6,"y":1.06},{"s":"G","x":65.9,"y":1.05},{"s":"G","x":65.2,"y":1.058},{"s":"G","x":64.5,"y":1.048},{"s":"G","x":63.8,"y":1.056},{"s":"G","x":63.1,"y":1.046},{"s":"G","x":62.4,"y":1.054},{"s":"G","x":61.7,"y":1.044},{"s":"G","x":61.0,"y":1.052},{"s":"G","x":60.3,"y":1.042},{"s":"G","x":59.6,"y":1.05},{"s":"G","x":58.9,"y":1.04},{"s":"G","x":58.2,"y":1.048},{"s":"G","x":57.5,"y":1.038},{"s":"G","x":56.8,"y":1.046},{"s":"G","x":56.1,"y":1.036},{"s":"G","x":55.4,"y":1.044},{"s":"G","x":54.7,"y":1.034},{"s":"G","x":54.0,"y":1.042},{"s":"G","x":53.3,"y":1.032},{"s":"G","x":52.6,"y":1.04},{"s":"G","x":51.9,"y":1.03},{"s":"G","x":51.2,"y":1.038},{"s":"G","x":50.5,"y":1.03},{"s":"G","x":49.8,"y":1.036},{"s":"G","x":49.1,"y":1.026},{"s":"G","x":48.4,"y":1.034},{"s":"G","x":47.7,"y":1.024},{"s":"G","x":47.0,"y":1.032},{"s":"G","x":46.3,"y":1.022},{"s":"G","x":45.6,"y":1.03},{"s":"G","x":44.9,"y":1.02},{"s":"G","x":44.2,"y":1.028},{"s":"G","x":43.5,"y":1.018},{"s":"G","x":42.8,"y":1.026},{"s":"G","x":42.1,"y":1.016},{"s":"G","x":41.4,"y":1.024},{"s":"G","x":40.7,"y":1.014},{"s":"G","x":40.0,"y":1.022},{"s":"G","x":39.3,"y":1.012},{"s":"G","x":38.6,"y":1.02},{"s":"G","x":37.9,"y":1.01},{"s":"G","x":37.2,"y":1.018},{"s":"G","x":36.5,"y":1.01},{"s":"G","x":35.8,"y":1.016},{"s":"G","x":35.1,"y":1.006},{"s":"G","x":34.4,"y":1.014},{"s":"G","x":33.7,"y":1.004},{"s":"G","x":33.0,"y":1.012},{"s":"G","x":32.3,"y":1.002},{"s":"G","x":31.6,"y":1.01},{"s":"G","x":30.9,"y":1.0},{"s":"G","x":30.2,"y":1.008},{"s":"G","x":29.5,"y":0.998},{"s":"G","x":28.8,"y":1.006},{"s":"G","x":28.1,"y":0.996},{"s":"G","x":27.4,"y":1.004},{"s":"G","x":26.7,"y":0.994},{"s":"G","x":26.0,"y":1.0},{"s":"G","x":25.3,"y":0.992},{"s":"G","x":24.6,"y":0.998},{"s":"G","x":23.9,"y":0.99},{"s":"G","x":23.2,"y":0.996},{"s":"G","x":22.5,"y":0.99},{"s":"G","x":21.8,"y":0.998},{"s":"G","x":21.1,"y":0.99},{"s":"G","x":20.4,"y":0.996},{"s":"G","x":19.7,"y":0.988},{"s":"G","x":19.0,"y":0.994},{"s":"G","x":18.3,"y":0.99},{"s":"G","x":17.6,"y":0.998},{"s":"G","x":16.9,"y":1.004},{"s":"G","x":16.2,"y":0.992},{"s":"G","x":15.5,"y":0.986},{"s":"G","x":14.8,"y":0.99},{"s":"G","x":14.1,"y":0.982},{"s":"G","x":13.4,"y":0.988},{"s":"G","x":12.7,"y":0.98},{"s":"G","x":12.0,"y":0.986},{"s":"G","x":11.3,"y":0.978},{"s":"G","x":10.6,"y":0.982},{"s":"G","x":9.9,"y":0.975},{"s":"G","x":9.2,"y":0.98},{"s":"G","x":8.5,"y":0.972},{"s":"G","x":7.8,"y":0.978},{"s":"G","x":7.1,"y":0.97},{"s":"G","x":6.4,"y":0.976},{"s":"G","x":5.7,"y":0.968},{"s":"G","x":5.0,"y":0.974},{"s":"G","x":4.3,"y":0.966},{"s":"G","x":3.6,"y":0.972},{"s":"G","x":2.9,"y":0.964},{"s":"G","x":2.2,"y":0.97},{"s":"G","x":1.5,"y":0.966},{"s":"G","x":0.8,"y":0.974},{"s":"G","x":0.1,"y":0.968},{"s":"G","x":-0.6,"y":0.976},{"s":"G","x":-1.3,"y":0.97},{"s":"G","x":-2.0,"y":0.978},{"s":"G","x":-2.7,"y":0.974},{"s":"G","x":-3.4,"y":0.982},{"s":"G","x":-4.1,"y":0.978},{"s":"G","x":-4.8,"y":0.986},{"s":"G","x":-5.5,"y":0.982},{"s":"G","x":-6.2,"y":0.99},{"s":"G","x":-6.9,"y":0.986},{"s":"G","x":-7.6,"y":0.994},{"s":"G","x":-8.3,"y":0.99},{"s":"G","x":-9.0,"y":0.998},{"s":"G","x":-9.7,"y":0.995},{"s":"G","x":-10.4,"y":1.002},{"s":"G","x":-11.1,"y":1.0},{"s":"G","x":-11.8,"y":1.006},{"s":"G","x":-12.5,"y":1.004},{"s":"G","x":-13.2,"y":1.01},{"s":"G","x":-13.9,"y":1.008},{"s":"G","x":-14.6,"y":1.014},{"s":"G","x":-15.3,"y":1.012},{"s":"G","x":-16.0,"y":1.018},{"s":"G","x":-16.7,"y":1.015},{"s":"G","x":-17.4,"y":1.022},{"s":"G","x":-18.1,"y":1.018},{"s":"G","x":-18.8,"y":1.025},{"s":"G","x":-19.5,"y":1.022},{"s":"G","x":-20.2,"y":1.028},{"s":"G","x":-20.9,"y":1.024},{"s":"G","x":-21.6,"y":1.03},{"s":"G","x":-22.3,"y":1.026},{"s":"G","x":-23.0,"y":1.032},{"s":"G","x":-23.7,"y":1.028},{"s":"G","x":-24.4,"y":1.034},{"s":"G","x":-25.1,"y":1.03},{"s":"G","x":-25.8,"y":1.036},{"s":"G","x":-26.5,"y":1.032},{"s":"G","x":-27.2,"y":1.038},{"s":"G","x":-27.9,"y":1.034},{"s":"G","x":-28.6,"y":1.04},{"s":"G","x":-29.3,"y":1.035},{"s":"G","x":-30.0,"y":1.042},{"s":"G","x":-30.7,"y":1.036},{"s":"G","x":-31.4,"y":1.042},{"s":"G","x":-32.1,"y":1.036},{"s":"G","x":-32.8,"y":1.044},{"s":"G","x":-33.5,"y":1.036},{"s":"G","x":-34.2,"y":1.042},{"s":"G","x":-34.9,"y":1.034},{"s":"G","x":-35.6,"y":1.04},{"s":"G","x":-36.3,"y":1.032},{"s":"G","x":-37.0,"y":1.04},{"s":"G","x":-37.7,"y":1.034},{"s":"G","x":-38.4,"y":1.042},{"s":"G","x":-39.1,"y":1.035},{"s":"G","x":-39.8,"y":1.04},{"s":"G","x":-40.5,"y":1.032},{"s":"G","x":-41.2,"y":1.038},{"s":"G","x":-41.9,"y":1.03},{"s":"G","x":-42.6,"y":1.04},{"s":"G","x":-43.3,"y":1.034},{"s":"G","x":-44.0,"y":1.04},{"s":"G","x":-44.7,"y":1.032},{"s":"G","x":-45.4,"y":1.038},{"s":"G","x":-46.1,"y":1.03},{"s":"G","x":-46.8,"y":1.036},{"s":"G","x":-47.5,"y":1.03},{"s":"G","x":-48.2,"y":1.038},{"s":"G","x":-48.9,"y":1.032},{"s":"G","x":-49.6,"y":1.036},{"s":"G","x":-50.3,"y":1.03},{"s":"G","x":-51.0,"y":1.036},{"s":"G","x":-51.7,"y":1.032},{"s":"G","x":-52.4,"y":1.04},{"s":"G","x":-53.1,"y":1.034},{"s":"G","x":-53.8,"y":1.04},{"s":"G","x":-54.5,"y":1.036},{"s":"G","x":-55.2,"y":1.044},{"s":"G","x":-55.9,"y":1.038},{"s":"G","x":-56.6,"y":1.046},{"s":"G","x":-57.3,"y":1.04},{"s":"G","x":-58.0,"y":1.05},{"s":"G","x":-58.7,"y":1.046},{"s":"G","x":-59.4,"y":1.054},{"s":"G","x":-60.1,"y":1.048},{"s":"G","x":-60.8,"y":1.056},{"s":"G","x":-61.5,"y":1.05},{"s":"G","x":-62.2,"y":1.058},{"s":"G","x":-62.9,"y":1.052},{"s":"G","x":-63.6,"y":1.06},{"s":"G","x":-64.3,"y":1.056},{"s":"G","x":-65.0,"y":1.064},{"s":"G","x":-65.7,"y":1.058},{"s":"G","x":-66.4,"y":1.066},{"s":"G","x":-67.1,"y":1.06},{"s":"G","x":-67.8,"y":1.068},{"s":"G","x":-68.5,"y":1.062},{"s":"G","x":-69.2,"y":1.07},{"s":"G","x":-69.9,"y":1.06},{"s":"G","x":-70.6,"y":1.078},{"s":"G","x":-71.3,"y":1.065},{"s":"G","x":-72.0,"y":1.085},{"s":"G","x":-72.7,"y":1.07},{"s":"G","x":-73.4,"y":1.09},{"s":"G","x":-74.1,"y":1.075},{"s":"G","x":-74.8,"y":1.098},{"s":"G","x":-75.5,"y":1.08},{"s":"G","x":-76.2,"y":1.102},{"s":"G","x":-76.9,"y":1.088},{"s":"G","x":-77.6,"y":1.11},{"s":"G","x":-78.3,"y":1.09},{"s":"G","x":-79.0,"y":1.118},{"s":"G","x":-79.6,"y":1.1},{"s":"G","x":-80.2,"y":1.125},
{"s":"B","x":82.0,"y":1.09},{"s":"B","x":80.6,"y":1.085},{"s":"B","x":79.2,"y":1.082},{"s":"B","x":77.8,"y":1.08},{"s":"B","x":76.4,"y":1.078},{"s":"B","x":75.0,"y":1.08},{"s":"B","x":73.6,"y":1.075},{"s":"B","x":72.2,"y":1.076},{"s":"B","x":70.8,"y":1.072},{"s":"B","x":69.4,"y":1.074},{"s":"B","x":68.0,"y":1.07},{"s":"B","x":66.6,"y":1.07},{"s":"B","x":65.2,"y":1.066},{"s":"B","x":63.8,"y":1.068},{"s":"B","x":62.4,"y":1.062},{"s":"B","x":61.0,"y":1.064},{"s":"B","x":59.6,"y":1.058},{"s":"B","x":58.2,"y":1.06},{"s":"B","x":56.8,"y":1.055},{"s":"B","x":55.4,"y":1.056},{"s":"B","x":54.0,"y":1.05},{"s":"B","x":52.6,"y":1.052},{"s":"B","x":51.2,"y":1.046},{"s":"B","x":49.8,"y":1.046},{"s":"B","x":48.4,"y":1.04},{"s":"B","x":47.0,"y":1.04},{"s":"B","x":45.6,"y":1.036},{"s":"B","x":44.2,"y":1.036},{"s":"B","x":42.8,"y":1.03},{"s":"B","x":41.4,"y":1.03},{"s":"B","x":40.0,"y":1.026},{"s":"B","x":38.6,"y":1.024},{"s":"B","x":37.2,"y":1.02},{"s":"B","x":35.8,"y":1.02},{"s":"B","x":34.4,"y":1.016},{"s":"B","x":33.0,"y":1.014},{"s":"B","x":31.6,"y":1.01},{"s":"B","x":30.2,"y":1.01},{"s":"B","x":28.8,"y":1.006},{"s":"B","x":27.4,"y":1.004},{"s":"B","x":26.0,"y":1.0},{"s":"B","x":24.6,"y":1.0},{"s":"B","x":23.2,"y":0.996},{"s":"B","x":21.8,"y":0.998},{"s":"B","x":20.4,"y":0.994},{"s":"B","x":19.0,"y":0.994},{"s":"B","x":17.6,"y":0.992},{"s":"B","x":16.2,"y":0.99},{"s":"B","x":14.8,"y":0.986},{"s":"B","x":13.4,"y":0.986},{"s":"B","x":12.0,"y":0.982},{"s":"B","x":10.6,"y":0.98},{"s":"B","x":9.2,"y":0.976},{"s":"B","x":7.8,"y":0.974},{"s":"B","x":6.4,"y":0.97},{"s":"B","x":5.0,"y":0.968},{"s":"B","x":3.6,"y":0.966},{"s":"B","x":2.2,"y":0.964},{"s":"B","x":0.8,"y":0.966},{"s":"B","x":-0.6,"y":0.968},{"s":"B","x":-2.0,"y":0.972},{"s":"B","x":-3.4,"y":0.976},{"s":"B","x":-4.8,"y":0.982},{"s":"B","x":-6.2,"y":0.986},{"s":"B","x":-7.6,"y":0.99},{"s":"B","x":-9.0,"y":0.996},{"s":"B","x":-10.4,"y":1.0},{"s":"B","x":-11.8,"y":1.004},{"s":"B","x":-13.2,"y":1.008},{"s":"B","x":-14.6,"y":1.012},{"s":"B","x":-16.0,"y":1.016},{"s":"B","x":-17.4,"y":1.02},{"s":"B","x":-18.8,"y":1.022},{"s":"B","x":-20.2,"y":1.026},{"s":"B","x":-21.6,"y":1.028},{"s":"B","x":-23.0,"y":1.03},{"s":"B","x":-24.4,"y":1.032},{"s":"B","x":-25.8,"y":1.034},{"s":"B","x":-27.2,"y":1.036},{"s":"B","x":-28.6,"y":1.038},{"s":"B","x":-30.0,"y":1.04},{"s":"B","x":-31.4,"y":1.038},{"s":"B","x":-32.8,"y":1.04},{"s":"B","x":-34.2,"y":1.036},{"s":"B","x":-35.6,"y":1.038},{"s":"B","x":-37.0,"y":1.034},{"s":"B","x":-38.4,"y":1.036},{"s":"B","x":-39.8,"y":1.032},{"s":"B","x":-41.2,"y":1.034},{"s":"B","x":-42.6,"y":1.03},{"s":"B","x":-44.0,"y":1.032},{"s":"B","x":-45.4,"y":1.028},{"s":"B","x":-46.8,"y":1.03},{"s":"B","x":-48.2,"y":1.026},{"s":"B","x":-49.6,"y":1.028},{"s":"B","x":-51.0,"y":1.024},{"s":"B","x":-52.4,"y":1.028},{"s":"B","x":-53.8,"y":1.024},{"s":"B","x":-55.2,"y":1.026},{"s":"B","x":-56.6,"y":1.022},{"s":"B","x":-58.0,"y":1.026},{"s":"B","x":-59.4,"y":1.024},{"s":"B","x":-60.8,"y":1.03},{"s":"B","x":-62.2,"y":1.028},{"s":"B","x":-63.6,"y":1.035},{"s":"B","x":-65.0,"y":1.04},{"s":"B","x":-66.4,"y":1.036},{"s":"B","x":-67.8,"y":1.03},{"s":"B","x":-69.2,"y":1.028},{"s":"B","x":-70.6,"y":1.025},{"s":"B","x":-72.0,"y":1.03},{"s":"B","x":-73.4,"y":1.04},{"s":"B","x":-74.8,"y":1.035},{"s":"B","x":-76.2,"y":1.045},{"s":"B","x":-77.6,"y":1.04},{"s":"B","x":-79.0,"y":1.05},{"s":"B","x":-80.2,"y":1.045},
{"s":"R","x":82.5,"y":1.09},{"s":"R","x":82.0,"y":1.07},{"s":"R","x":81.5,"y":1.08},{"s":"R","x":81.0,"y":1.058},{"s":"R","x":80.4,"y":1.065},{"s":"R","x":79.8,"y":1.045},{"s":"R","x":79.2,"y":1.05},{"s":"R","x":78.5,"y":1.028},{"s":"R","x":77.8,"y":1.032},{"s":"R","x":77.1,"y":1.015},{"s":"R","x":76.4,"y":1.02},{"s":"R","x":75.7,"y":1.005},{"s":"R","x":75.0,"y":1.012},{"s":"R","x":74.3,"y":0.998},{"s":"R","x":73.6,"y":1.005},{"s":"R","x":72.9,"y":0.99},{"s":"R","x":72.2,"y":0.995},{"s":"R","x":71.4,"y":0.985},{"s":"R","x":70.6,"y":0.978},{"s":"R","x":69.8,"y":0.975},{"s":"R","x":69.0,"y":0.968},{"s":"R","x":68.2,"y":0.972},{"s":"R","x":67.4,"y":0.962},{"s":"R","x":66.6,"y":0.958},{"s":"R","x":65.8,"y":0.96},{"s":"R","x":65.0,"y":0.948},{"s":"R","x":64.2,"y":0.935},{"s":"R","x":63.4,"y":0.938},{"s":"R","x":62.6,"y":0.93},{"s":"R","x":61.8,"y":0.928},{"s":"R","x":61.0,"y":0.92},{"s":"R","x":60.2,"y":0.922},{"s":"R","x":59.4,"y":0.912},{"s":"R","x":58.6,"y":0.915},{"s":"R","x":57.8,"y":0.9},{"s":"R","x":57.0,"y":0.905},{"s":"R","x":56.2,"y":0.893},{"s":"R","x":55.4,"y":0.898},{"s":"R","x":54.6,"y":0.882},{"s":"R","x":53.8,"y":0.888},{"s":"R","x":53.0,"y":0.87},{"s":"R","x":52.2,"y":0.876},{"s":"R","x":51.4,"y":0.862},{"s":"R","x":50.6,"y":0.866},{"s":"R","x":49.8,"y":0.852},{"s":"R","x":49.0,"y":0.858},{"s":"R","x":48.2,"y":0.84},{"s":"R","x":47.4,"y":0.848},{"s":"R","x":46.6,"y":0.828},{"s":"R","x":45.8,"y":0.842},{"s":"R","x":45.0,"y":0.815},{"s":"R","x":44.2,"y":0.835},{"s":"R","x":43.4,"y":0.805},{"s":"R","x":42.6,"y":0.83},{"s":"R","x":41.8,"y":0.8},{"s":"R","x":41.0,"y":0.81},{"s":"R","x":40.2,"y":0.79},{"s":"R","x":39.4,"y":0.798},{"s":"R","x":38.6,"y":0.782},{"s":"R","x":37.8,"y":0.792},{"s":"R","x":37.0,"y":0.776},{"s":"R","x":36.2,"y":0.788},{"s":"R","x":35.4,"y":0.78},{"s":"R","x":34.6,"y":0.79},{"s":"R","x":33.8,"y":0.782},{"s":"R","x":33.0,"y":0.794},{"s":"R","x":32.2,"y":0.786},{"s":"R","x":31.4,"y":0.8},{"s":"R","x":30.6,"y":0.792},{"s":"R","x":29.8,"y":0.808},{"s":"R","x":29.0,"y":0.8},{"s":"R","x":28.2,"y":0.815},{"s":"R","x":27.4,"y":0.808},{"s":"R","x":26.6,"y":0.822},{"s":"R","x":25.8,"y":0.812},{"s":"R","x":25.0,"y":0.828},{"s":"R","x":24.2,"y":0.818},{"s":"R","x":23.4,"y":0.832},{"s":"R","x":22.6,"y":0.822},{"s":"R","x":21.8,"y":0.836},{"s":"R","x":21.0,"y":0.828},{"s":"R","x":20.2,"y":0.84},{"s":"R","x":19.4,"y":0.832},{"s":"R","x":18.6,"y":0.845},{"s":"R","x":17.8,"y":0.838},{"s":"R","x":17.0,"y":0.85},{"s":"R","x":16.2,"y":0.885},{"s":"R","x":15.4,"y":0.855},{"s":"R","x":14.6,"y":0.872},{"s":"R","x":13.8,"y":0.848},{"s":"R","x":13.0,"y":0.868},{"s":"R","x":12.2,"y":0.855},{"s":"R","x":11.4,"y":0.87},{"s":"R","x":10.6,"y":0.85},{"s":"R","x":9.8,"y":0.866},{"s":"R","x":9.0,"y":0.856},{"s":"R","x":8.2,"y":0.872},{"s":"R","x":7.4,"y":0.846},{"s":"R","x":6.6,"y":0.866},{"s":"R","x":5.8,"y":0.858},{"s":"R","x":5.0,"y":0.872},{"s":"R","x":4.2,"y":0.852},{"s":"R","x":3.4,"y":0.87},{"s":"R","x":2.6,"y":0.86},{"s":"R","x":1.8,"y":0.874},{"s":"R","x":1.0,"y":0.858},{"s":"R","x":0.2,"y":0.868},{"s":"R","x":-0.6,"y":0.862},{"s":"R","x":-1.4,"y":0.874},{"s":"R","x":-2.2,"y":0.864},{"s":"R","x":-3.0,"y":0.878},{"s":"R","x":-3.8,"y":0.868},{"s":"R","x":-4.6,"y":0.882},{"s":"R","x":-5.4,"y":0.872},{"s":"R","x":-6.2,"y":0.884},{"s":"R","x":-7.0,"y":0.876},{"s":"R","x":-7.8,"y":0.89},{"s":"R","x":-8.6,"y":0.88},{"s":"R","x":-9.4,"y":0.892},{"s":"R","x":-10.2,"y":0.886},{"s":"R","x":-11.0,"y":0.898},{"s":"R","x":-11.8,"y":0.89},{"s":"R","x":-12.6,"y":0.902},{"s":"R","x":-13.4,"y":0.896},{"s":"R","x":-14.2,"y":0.91},{"s":"R","x":-15.0,"y":0.902},{"s":"R","x":-15.8,"y":0.914},{"s":"R","x":-16.6,"y":0.906},{"s":"R","x":-17.4,"y":0.92},{"s":"R","x":-18.2,"y":0.912},{"s":"R","x":-19.0,"y":0.925},{"s":"R","x":-19.8,"y":0.918},{"s":"R","x":-20.6,"y":0.93},{"s":"R","x":-21.4,"y":0.922},{"s":"R","x":-22.2,"y":0.934},{"s":"R","x":-23.0,"y":0.928},{"s":"R","x":-23.8,"y":0.94},{"s":"R","x":-24.6,"y":0.93},{"s":"R","x":-25.4,"y":0.942},{"s":"R","x":-26.2,"y":0.935},{"s":"R","x":-27.0,"y":0.946},{"s":"R","x":-27.8,"y":0.938},{"s":"R","x":-28.6,"y":0.95},{"s":"R","x":-29.4,"y":0.94},{"s":"R","x":-30.2,"y":0.952},{"s":"R","x":-31.0,"y":0.945},{"s":"R","x":-31.8,"y":0.932},{"s":"R","x":-32.6,"y":0.955},{"s":"R","x":-33.4,"y":0.948},{"s":"R","x":-34.2,"y":0.958},{"s":"R","x":-35.0,"y":0.95},{"s":"R","x":-35.8,"y":0.96},{"s":"R","x":-36.6,"y":0.948},{"s":"R","x":-37.4,"y":0.956},{"s":"R","x":-38.2,"y":0.95},{"s":"R","x":-39.0,"y":0.962},{"s":"R","x":-39.8,"y":0.952},{"s":"R","x":-40.6,"y":0.96},{"s":"R","x":-41.4,"y":0.948},{"s":"R","x":-42.2,"y":0.958},{"s":"R","x":-43.0,"y":0.95},{"s":"R","x":-43.8,"y":0.962},{"s":"R","x":-44.6,"y":0.955},{"s":"R","x":-45.4,"y":0.958},{"s":"R","x":-46.2,"y":0.948},{"s":"R","x":-47.0,"y":0.96},{"s":"R","x":-47.8,"y":0.952},{"s":"R","x":-48.6,"y":0.962},{"s":"R","x":-49.4,"y":0.95},{"s":"R","x":-50.2,"y":0.958},{"s":"R","x":-51.0,"y":0.948},{"s":"R","x":-51.8,"y":0.956},{"s":"R","x":-52.6,"y":0.944},{"s":"R","x":-53.4,"y":0.955},{"s":"R","x":-54.2,"y":0.946},{"s":"R","x":-55.0,"y":0.958},{"s":"R","x":-55.8,"y":0.94},{"s":"R","x":-56.6,"y":0.952},{"s":"R","x":-57.4,"y":0.936},{"s":"R","x":-58.2,"y":0.95},{"s":"R","x":-59.0,"y":0.93},{"s":"R","x":-59.8,"y":0.948},{"s":"R","x":-60.6,"y":0.94},{"s":"R","x":-61.4,"y":0.958},{"s":"R","x":-62.2,"y":0.972},{"s":"R","x":-63.0,"y":0.962},{"s":"R","x":-63.8,"y":0.978},{"s":"R","x":-64.6,"y":0.97},{"s":"R","x":-65.4,"y":0.985},{"s":"R","x":-66.2,"y":0.975},{"s":"R","x":-67.0,"y":0.995},{"s":"R","x":-67.8,"y":0.982},{"s":"R","x":-68.6,"y":0.998},{"s":"R","x":-69.4,"y":0.99},{"s":"R","x":-70.2,"y":1.005},{"s":"R","x":-71.0,"y":0.985},{"s":"R","x":-71.8,"y":1.01},{"s":"R","x":-72.6,"y":0.995},{"s":"R","x":-73.4,"y":1.015},{"s":"R","x":-74.2,"y":1.0},{"s":"R","x":-75.0,"y":1.02},{"s":"R","x":-75.8,"y":1.01},{"s":"R","x":-76.6,"y":1.03},{"s":"R","x":-77.3,"y":1.04}
],
"junA":[{"t":"June\n2006","x":-43.7,"y":1.363},{"t":"Day Release\n2","x":21.3,"y":1.2},{"t":"Day Release\n1","x":-20.6,"y":0.84}],
"junL":[{"t":"Magenta Daytime, Version 2.0","k":"M","x":75.5,"y":0.559},{"t":"Green Nighttime, Version 2.0","k":"G","x":-4.3,"y":0.559}],
"sepA":[{"t":"September\n2006","x":-20.2,"y":1.358}],
"sepL":[{"t":"Magenta Daytime, Version 2.0","k":"M","x":75.5,"y":0.56},{"t":"Green Nighttime, Version 2.0","k":"G","x":-4.3,"y":0.56},{"t":"Red Daytime, Version 1.0","k":"R","x":75.5,"y":0.511},{"t":"Blue Nighttime, Version 1.0","k":"B","x":-4.3,"y":0.511}]
},
"vconcat":[
{"title":{"text":"June 2006, Versions 1 and 2"},"width":497,"height":403,
"resolve":{"axis":{"x":"independent","y":"independent"},"scale":{"color":"independent"}},
"layer":[
{"data":{"values":[{}]},"mark":{"type":"rule","color":"#f39a4c","strokeWidth":1},
"encoding":{"y":{"datum":1,"type":"quantitative","scale":{"domain":[0.55,1.5],"nice":false,"zero":false},"axis":null}}},
{"data":{"name":"jun"},"mark":{"type":"line","color":"#1a1a1a","strokeWidth":0.7,"clip":true},
"encoding":{"x":{"field":"x","type":"quantitative","scale":{"domain":[-90,90],"reverse":true,"nice":false,"zero":false},"axis":null},
"y":{"field":"y","type":"quantitative","scale":{"domain":[0.55,1.5],"nice":false,"zero":false},
"axis":{"orient":"left","values":[0.55,0.6,0.65,0.7,0.75,0.8,0.85,0.9,0.95,1,1.05,1.1,1.15,1.2,1.25,1.3,1.35,1.4,1.45,1.5],"labelExpr":"datum.value==1.5?'1.5':datum.value==1?'1':''","title":"200km Averages, Mean Attenuated Scattering Ratio","titleFontSize":12.5,"titlePadding":4,"labelFontSize":11,"labelPadding":10,"tickSize":-4,"grid":true,"gridColor":"#666","gridWidth":1.2,"gridOpacity":{"condition":{"test":"abs(datum.value*10-round(datum.value*10))<0.01 && datum.value!=1 && datum.value!=1.5","value":1},"value":0}}},
"detail":{"field":"s"},"order":{"value":null}}},
{"data":{"name":"jun"},"mark":{"type":"square","size":8,"opacity":1,"clip":true},
"encoding":{"x":{"field":"x","type":"quantitative","scale":{"domain":[-90,90],"reverse":true,"nice":false,"zero":false},"axis":{"orient":"top","values":[60,30,0,-30,-60],"labels":false,"title":null,"tickSize":-4}},
"y":{"field":"y","type":"quantitative","scale":{"domain":[0.55,1.5],"nice":false,"zero":false},"axis":{"orient":"right","values":[0.55,0.6,0.65,0.7,0.75,0.8,0.85,0.9,0.95,1,1.05,1.1,1.15,1.2,1.25,1.3,1.35,1.4,1.45,1.5],"labels":false,"title":null,"tickSize":-4}},
"color":{"field":"s","type":"nominal","scale":{"domain":["M","G","B","R"],"range":["#b048b4","#3ea02a","#2a3cb0","#e02418"]},"legend":null}}},
{"data":{"name":"junA"},"mark":{"type":"text","font":"Liberation Sans","fontSize":20,"fontWeight":"bold","color":"#2c2f70","align":"left","baseline":"alphabetic","lineBreak":"\n","lineHeight":25},
"encoding":{"x":{"field":"x","type":"quantitative","scale":{"domain":[-90,90],"reverse":true,"nice":false,"zero":false},"axis":null},"y":{"field":"y","type":"quantitative","scale":{"domain":[0.55,1.5],"nice":false,"zero":false},"axis":null},"text":{"field":"t"}}},
{"data":{"name":"junL"},"mark":{"type":"text","font":"Liberation Sans","fontSize":10.5,"fontWeight":"bold","align":"left","baseline":"alphabetic"},
"encoding":{"x":{"field":"x","type":"quantitative","scale":{"domain":[-90,90],"reverse":true,"nice":false,"zero":false},"axis":null},"y":{"field":"y","type":"quantitative","scale":{"domain":[0.55,1.5],"nice":false,"zero":false},"axis":null},"text":{"field":"t"},
"color":{"field":"k","type":"nominal","scale":{"domain":["M","G","R","B"],"range":["#c266c2","#66b34a","#e2392a","#3a50b0"]},"legend":null}}}
]},
{"title":{"text":"September 2006, Versions 1 and 2"},"width":497,"height":425,
"resolve":{"axis":{"x":"independent","y":"independent"},"scale":{"color":"independent"}},
"layer":[
{"data":{"values":[{}]},"mark":{"type":"rule","color":"#f39a4c","strokeWidth":1},
"encoding":{"y":{"datum":1,"type":"quantitative","scale":{"domain":[0.5,1.5],"nice":false,"zero":false},"axis":null}}},
{"data":{"name":"sep"},"mark":{"type":"line","color":"#1a1a1a","strokeWidth":0.7,"clip":true},
"encoding":{"x":{"field":"x","type":"quantitative","scale":{"domain":[-90,90],"reverse":true,"nice":false,"zero":false},
"axis":{"orient":"bottom","values":[90,60,30,0,-30,-60,-90],"labelExpr":"''+datum.value","title":"Latitude","titleFontSize":11.5,"titlePadding":3,"labelFontSize":12,"labelPadding":9,"tickSize":-4}},
"y":{"field":"y","type":"quantitative","scale":{"domain":[0.5,1.5],"nice":false,"zero":false},
"axis":{"orient":"left","values":[0.5,0.55,0.6,0.65,0.7,0.75,0.8,0.85,0.9,0.95,1,1.05,1.1,1.15,1.2,1.25,1.3,1.35,1.4,1.45,1.5],"labelExpr":"datum.value==1.5?'1.5':datum.value==1?'1':datum.value==0.5?'0.5':''","title":"200km Averages, Mean Attenuated Scattering Ratio","titleFontSize":12.5,"titlePadding":4,"labelFontSize":11,"labelPadding":10,"tickSize":-4,"grid":true,"gridColor":"#666","gridWidth":1.2,"gridOpacity":{"condition":{"test":"abs(datum.value*10-round(datum.value*10))<0.01 && datum.value!=1 && datum.value!=1.5 && datum.value!=0.5","value":1},"value":0}}},
"detail":{"field":"s"},"order":{"value":null}}},
{"data":{"name":"sep"},"mark":{"type":"square","size":8,"opacity":1,"clip":true},
"encoding":{"x":{"field":"x","type":"quantitative","scale":{"domain":[-90,90],"reverse":true,"nice":false,"zero":false},"axis":{"orient":"top","values":[60,30,0,-30,-60],"labels":false,"title":null,"tickSize":-4}},
"y":{"field":"y","type":"quantitative","scale":{"domain":[0.5,1.5],"nice":false,"zero":false},"axis":{"orient":"right","values":[0.5,0.55,0.6,0.65,0.7,0.75,0.8,0.85,0.9,0.95,1,1.05,1.1,1.15,1.2,1.25,1.3,1.35,1.4,1.45,1.5],"labels":false,"title":null,"tickSize":-4}},
"color":{"field":"s","type":"nominal","scale":{"domain":["M","G","B","R"],"range":["#b048b4","#3ea02a","#2a3cb0","#e02418"]},"legend":null}}},
{"data":{"name":"sepA"},"mark":{"type":"text","font":"Liberation Sans","fontSize":20,"fontWeight":"bold","color":"#2c2f70","align":"left","baseline":"alphabetic","lineBreak":"\n","lineHeight":25},
"encoding":{"x":{"field":"x","type":"quantitative","scale":{"domain":[-90,90],"reverse":true,"nice":false,"zero":false},"axis":null},"y":{"field":"y","type":"quantitative","scale":{"domain":[0.5,1.5],"nice":false,"zero":false},"axis":null},"text":{"field":"t"}}},
{"data":{"name":"sepL"},"mark":{"type":"text","font":"Liberation Sans","fontSize":10.5,"fontWeight":"bold","align":"left","baseline":"alphabetic"},
"encoding":{"x":{"field":"x","type":"quantitative","scale":{"domain":[-90,90],"reverse":true,"nice":false,"zero":false},"axis":null},"y":{"field":"y","type":"quantitative","scale":{"domain":[0.5,1.5],"nice":false,"zero":false},"axis":null},"text":{"field":"t"},
"color":{"field":"k","type":"nominal","scale":{"domain":["M","G","R","B"],"range":["#c266c2","#66b34a","#e2392a","#3a50b0"]},"legend":null}}}
]}
]
}
